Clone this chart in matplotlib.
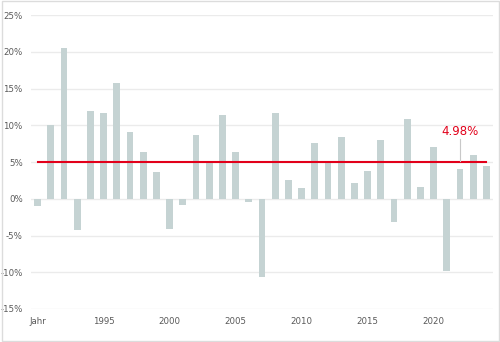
import matplotlib
matplotlib.use("Agg")
import matplotlib.pyplot as plt
import numpy as np

# data
labels = ["Jahr"] + [str(y) for y in range(1991, 2025)]
values = [-1.0, 10.0, 20.5, -4.3, 12.0, 11.7, 15.8, 9.1, 6.4, 3.6,
          -4.1, -0.8, 8.7, 4.8, 11.4, 6.3, -0.5, -10.7, 11.7, 2.5,
          1.5, 7.6, 4.8, 8.4, 2.1, 3.8, 8.0, -3.2, 10.8, 1.6,
          7.0, -9.8, 4.0, 5.9, 4.5]
avg = 4.98
avg_label = "4.98%"
yticks = [-15, -10, -5, 0, 5, 10, 15, 20, 25]

fig = plt.figure(figsize=(5, 3.42), dpi=100)
ax = fig.add_axes([0.062, 0.0965, 0.924, 0.8595])

x = np.arange(len(values))
ax.bar(x, values, width=0.52, color="#c5d3d3", zorder=2)
ax.plot([x[0], x[-1]], [avg, avg], color="#e2001a", lw=1.5, zorder=3)

# annotation
ax.plot([32, 32], [avg + 0.1, 8.2], color="#c8c8c8", lw=0.8, zorder=3)
ax.text(32, 9.1, avg_label, color="#e2001a", fontsize=8.5, ha="center", va="center")

ax.set_xlim(-0.5, len(values) - 0.5)
ax.set_ylim(-15, 25)
ax.set_yticks(yticks)
ax.set_yticklabels([f"{t}%" for t in yticks])
ax.set_xticks(x[::5])
ax.set_xticklabels(labels[::5])
ax.grid(axis="y", color="#ebebeb", lw=1, zorder=0)
ax.tick_params(length=0, labelsize=6.2, labelcolor="#595959")
ax.tick_params(axis="y", pad=6)
ax.tick_params(axis="x", pad=6)
for s in ax.spines.values():
    s.set_visible(False)

fig.patches.append(plt.Rectangle((0.003, 0.004), 0.994, 0.992, transform=fig.transFigure,
                                 fill=False, edgecolor="#dcdcdc", lw=1))

fig.savefig("out.png", dpi=100)
